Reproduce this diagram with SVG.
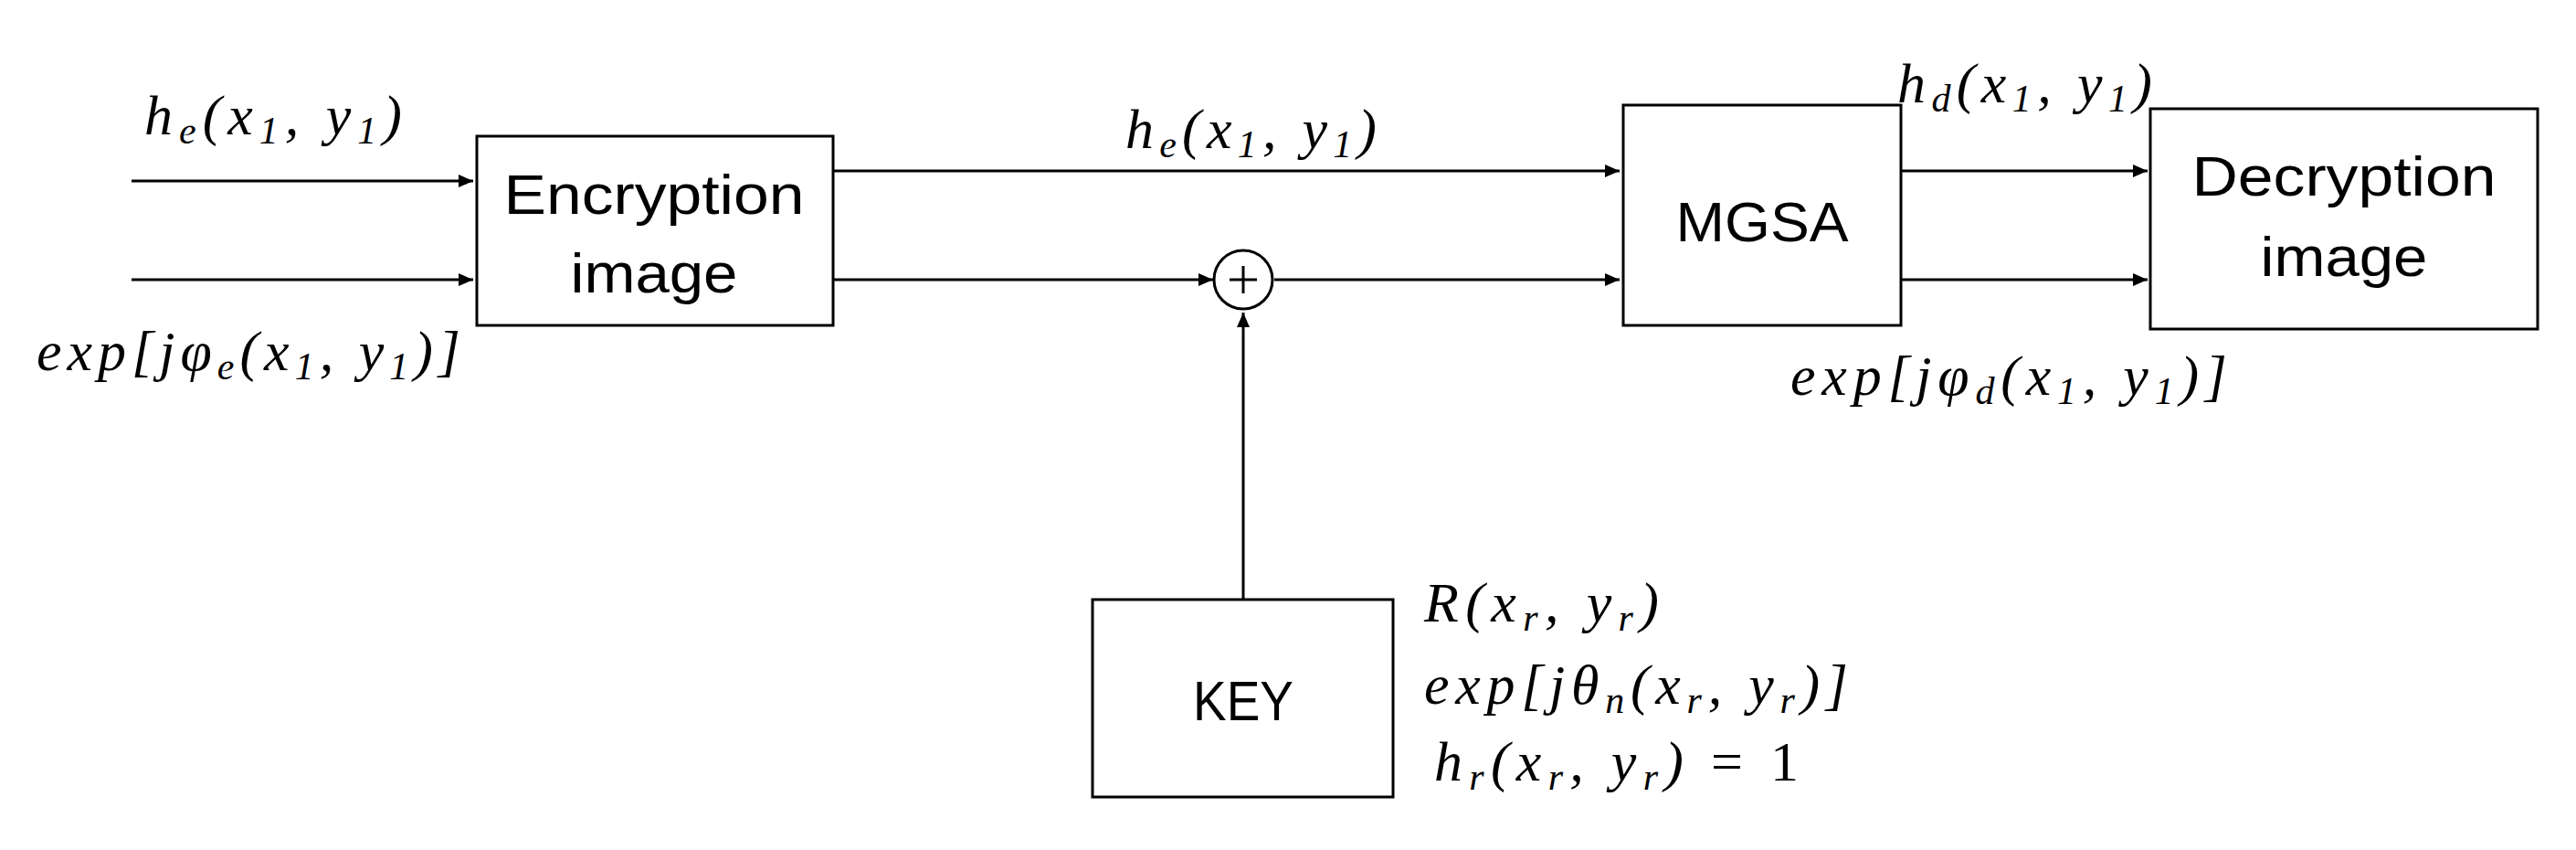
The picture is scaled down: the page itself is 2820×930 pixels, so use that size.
<svg xmlns="http://www.w3.org/2000/svg" width="2820" height="930" viewBox="0 0 2820 930">
<style>
.box{fill:#fff;stroke:#000;stroke-width:3}
.lbl{font-family:"Liberation Sans",sans-serif;font-size:62px;text-anchor:middle;fill:#000}
.m{font-family:"Liberation Serif",serif;font-style:italic;font-size:62px;fill:#000}
.s{font-size:42px}
</style>
<defs>
<marker id="ah2" markerWidth="16" markerHeight="16" refX="16" refY="8" orient="auto" markerUnits="userSpaceOnUse"><path d="M0,1 L16,8 L0,15 z"/></marker></defs>
<g id="connectors">
<line x1="144" y1="198" x2="518" y2="198" stroke="#000" stroke-width="3" marker-end="url(#ah2)"/>
<line x1="144" y1="306" x2="518" y2="306" stroke="#000" stroke-width="3" marker-end="url(#ah2)"/>
<line x1="912" y1="187" x2="1773" y2="187" stroke="#000" stroke-width="3" marker-end="url(#ah2)"/>
<line x1="912" y1="306" x2="1328" y2="306" stroke="#000" stroke-width="3" marker-end="url(#ah2)"/>
<line x1="1395" y1="306" x2="1773" y2="306" stroke="#000" stroke-width="3" marker-end="url(#ah2)"/>
<line x1="1361" y1="656" x2="1361" y2="342" stroke="#000" stroke-width="3" marker-end="url(#ah2)"/>
<line x1="2081" y1="187" x2="2351" y2="187" stroke="#000" stroke-width="3" marker-end="url(#ah2)"/>
<line x1="2081" y1="306" x2="2351" y2="306" stroke="#000" stroke-width="3" marker-end="url(#ah2)"/>
</g>
<g id="sum"><circle cx="1361" cy="306" r="32" fill="#fff" stroke="#000" stroke-width="3"/>
<line x1="1346" y1="306" x2="1376" y2="306" stroke="#000" stroke-width="3"/><line x1="1361" y1="291" x2="1361" y2="321" stroke="#000" stroke-width="3"/></g>
<g id="enc"><rect class="box" x="522" y="149" width="390" height="207"/>
<text class="lbl" x="716" y="234" textLength="329" lengthAdjust="spacingAndGlyphs">Encryption</text><text class="lbl" x="716" y="320" textLength="183" lengthAdjust="spacingAndGlyphs">image</text></g>
<g id="mgsa"><rect class="box" x="1777" y="115" width="304" height="241"/>
<text class="lbl" x="1929" y="264" textLength="189" lengthAdjust="spacingAndGlyphs">MGSA</text></g>
<g id="dec"><rect class="box" x="2354" y="119" width="424" height="241"/>
<text class="lbl" x="2566" y="214" textLength="333" lengthAdjust="spacingAndGlyphs">Decryption</text><text class="lbl" x="2566" y="302" textLength="183" lengthAdjust="spacingAndGlyphs">image</text></g>
<g id="key"><rect class="box" x="1196" y="656" width="329" height="216"/>
<text class="lbl" x="1361" y="788" textLength="110" lengthAdjust="spacingAndGlyphs">KEY</text></g>
<g id="labels">
<text class="m" x="158" y="147" textLength="282" lengthAdjust="spacing">h<tspan class="s" dy="10">e</tspan><tspan dy="-10">(x</tspan><tspan class="s" dy="10">1</tspan><tspan dy="-10">, y</tspan><tspan class="s" dy="10">1</tspan><tspan dy="-10">)</tspan></text>
<text class="m" x="40" y="405" textLength="464" lengthAdjust="spacing">exp[jφ<tspan class="s" dy="10">e</tspan><tspan dy="-10">(x</tspan><tspan class="s" dy="10">1</tspan><tspan dy="-10">, y</tspan><tspan class="s" dy="10">1</tspan><tspan dy="-10">)]</tspan></text>
<text class="m" x="1232" y="162" textLength="275" lengthAdjust="spacing">h<tspan class="s" dy="10">e</tspan><tspan dy="-10">(x</tspan><tspan class="s" dy="10">1</tspan><tspan dy="-10">, y</tspan><tspan class="s" dy="10">1</tspan><tspan dy="-10">)</tspan></text>
<text class="m" x="2077" y="112" textLength="279" lengthAdjust="spacing">h<tspan class="s" dy="10">d</tspan><tspan dy="-10">(x</tspan><tspan class="s" dy="10">1</tspan><tspan dy="-10">, y</tspan><tspan class="s" dy="10">1</tspan><tspan dy="-10">)</tspan></text>
<text class="m" x="1960" y="432" textLength="478" lengthAdjust="spacing">exp[jφ<tspan class="s" dy="10">d</tspan><tspan dy="-10">(x</tspan><tspan class="s" dy="10">1</tspan><tspan dy="-10">, y</tspan><tspan class="s" dy="10">1</tspan><tspan dy="-10">)]</tspan></text>
<text class="m" x="1559" y="680" textLength="257" lengthAdjust="spacing">R(x<tspan class="s" dy="10">r</tspan><tspan dy="-10">, y</tspan><tspan class="s" dy="10">r</tspan><tspan dy="-10">)</tspan></text>
<text class="m" x="1559" y="770" textLength="464" lengthAdjust="spacing">exp[jθ<tspan class="s" dy="10">n</tspan><tspan dy="-10">(x</tspan><tspan class="s" dy="10">r</tspan><tspan dy="-10">, y</tspan><tspan class="s" dy="10">r</tspan><tspan dy="-10">)]</tspan></text>
<text class="m" x="1570" y="854" textLength="399" lengthAdjust="spacing">h<tspan class="s" dy="10">r</tspan><tspan dy="-10">(x</tspan><tspan class="s" dy="10">r</tspan><tspan dy="-10">, y</tspan><tspan class="s" dy="10">r</tspan><tspan dy="-10">) </tspan><tspan font-style="normal">= 1</tspan></text>
</g>
</svg>
